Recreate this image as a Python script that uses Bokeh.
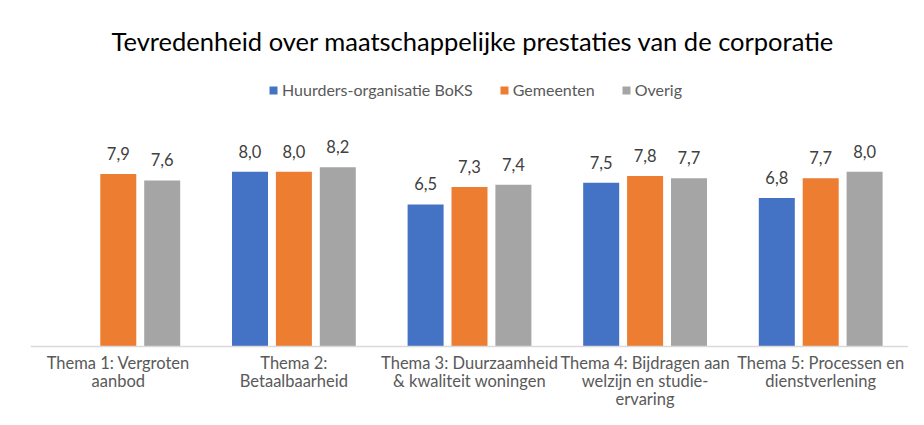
import math
from bokeh.plotting import figure
from bokeh.models import (ColumnDataSource, FactorRange, Range1d, Label, LabelSet,
                          Legend, LegendItem, Span)
from bokeh.core.properties import value
from bokeh.transform import dodge
from bokeh.embed import file_html
from bokeh.resources import INLINE

# ---- data ----
themes = [
    "Thema 1: Vergroten\naanbod",
    "Thema 2:\nBetaalbaarheid",
    "Thema 3: Duurzaamheid\n& kwaliteit woningen",
    "Thema 4: Bijdragen aan\nwelzijn en studie-\nervaring",
    "Thema 5: Processen en\ndienstverlening",
]
series_names = ["Huurders-organisatie BoKS", "Gemeenten", "Overig"]
boks = [float("nan"), 8.0, 6.5, 7.5, 6.8]
gemeenten = [7.9, 8.0, 7.3, 7.8, 7.7]
overig = [7.6, 8.2, 7.4, 7.7, 8.0]
colors = ["#4472C4", "#ED7D31", "#A5A5A5"]
offsets = [-0.25, 0.0, 0.25]

FONT = "Lato"
H = 409
BASE = 346          # pixel row of the value axis baseline
PX_PER_UNIT = 21.85

p = figure(width=908, height=H, output_backend="svg", toolbar_location=None,
           x_range=FactorRange(*themes, range_padding=0),
           y_range=Range1d(-(H - BASE) / PX_PER_UNIT, BASE / PX_PER_UNIT),
           min_border_left=30, min_border_right=0, min_border_bottom=0,
           min_border_top=0)
p.outline_line_color = None
p.xgrid.grid_line_color = None
p.ygrid.grid_line_color = None
p.xaxis.visible = False
p.yaxis.visible = False
p.background_fill_color = "white"
p.border_fill_color = "white"

# category axis line
p.add_layout(Span(location=0, dimension="width", line_color="#D9D9D9", line_width=1.5))

renderers = []
for vals, col, off, name in zip([boks, gemeenten, overig], colors, offsets, series_names):
    src = ColumnDataSource(dict(theme=themes, val=vals))
    r = p.vbar(x=dodge("theme", off, range=p.x_range), top="val", width=0.205,
               source=src, fill_color=col, line_color=None)
    renderers.append(r)
    present = [(t, v) for t, v in zip(themes, vals) if not math.isnan(v)]
    lsrc = ColumnDataSource(dict(theme=[t for t, _ in present],
                                 val=[v for _, v in present],
                                 txt=[f"{v:.1f}".replace(".", ",") for _, v in present]))
    p.add_layout(LabelSet(x=dodge("theme", off, range=p.x_range), y="val", text="txt",
                          source=lsrc, text_align="center", text_baseline="alphabetic",
                          y_offset=14, text_font=value(FONT), text_font_size="16.5px",
                          text_color="#404040"))

# category labels below the axis line, one LabelSet per text line (centred lines)
split = [t.split("\n") for t in themes]
n_lines = max(len(s) for s in split)
for k in range(n_lines):
    rows = [(t, s[k]) for t, s in zip(themes, split) if len(s) > k]
    csrc = ColumnDataSource(dict(theme=[t for t, _ in rows], base=[0] * len(rows),
                                 line=[l for _, l in rows]))
    p.add_layout(LabelSet(x="theme", y="base", text="line", source=csrc,
                          text_align="center", text_baseline="top", y_offset=-6 - 18.3 * k,
                          text_font=value(FONT), text_font_size="16.5px",
                          text_color="#595959"))

title = Label(x=442.5, y=H - 40, x_units="screen", y_units="screen",
              text="Tevredenheid over maatschappelijke prestaties van de corporatie",
              text_align="center", text_baseline="alphabetic",
              text_font=FONT, text_font_size="25.5px", text_color="#000000")
p.add_layout(title)

legend = Legend(items=[LegendItem(label=n, renderers=[r]) for n, r in zip(series_names, renderers)],
                orientation="horizontal", location=(238, H - 99),
                glyph_width=10, glyph_height=10, label_standoff=4, spacing=26,
                padding=0, margin=0, border_line_color=None, background_fill_alpha=0,
                label_text_font=FONT, label_text_font_size="16px",
                label_text_color="#595959")
p.add_layout(legend, "center")

open("out.html", "w").write(file_html(p, INLINE))
